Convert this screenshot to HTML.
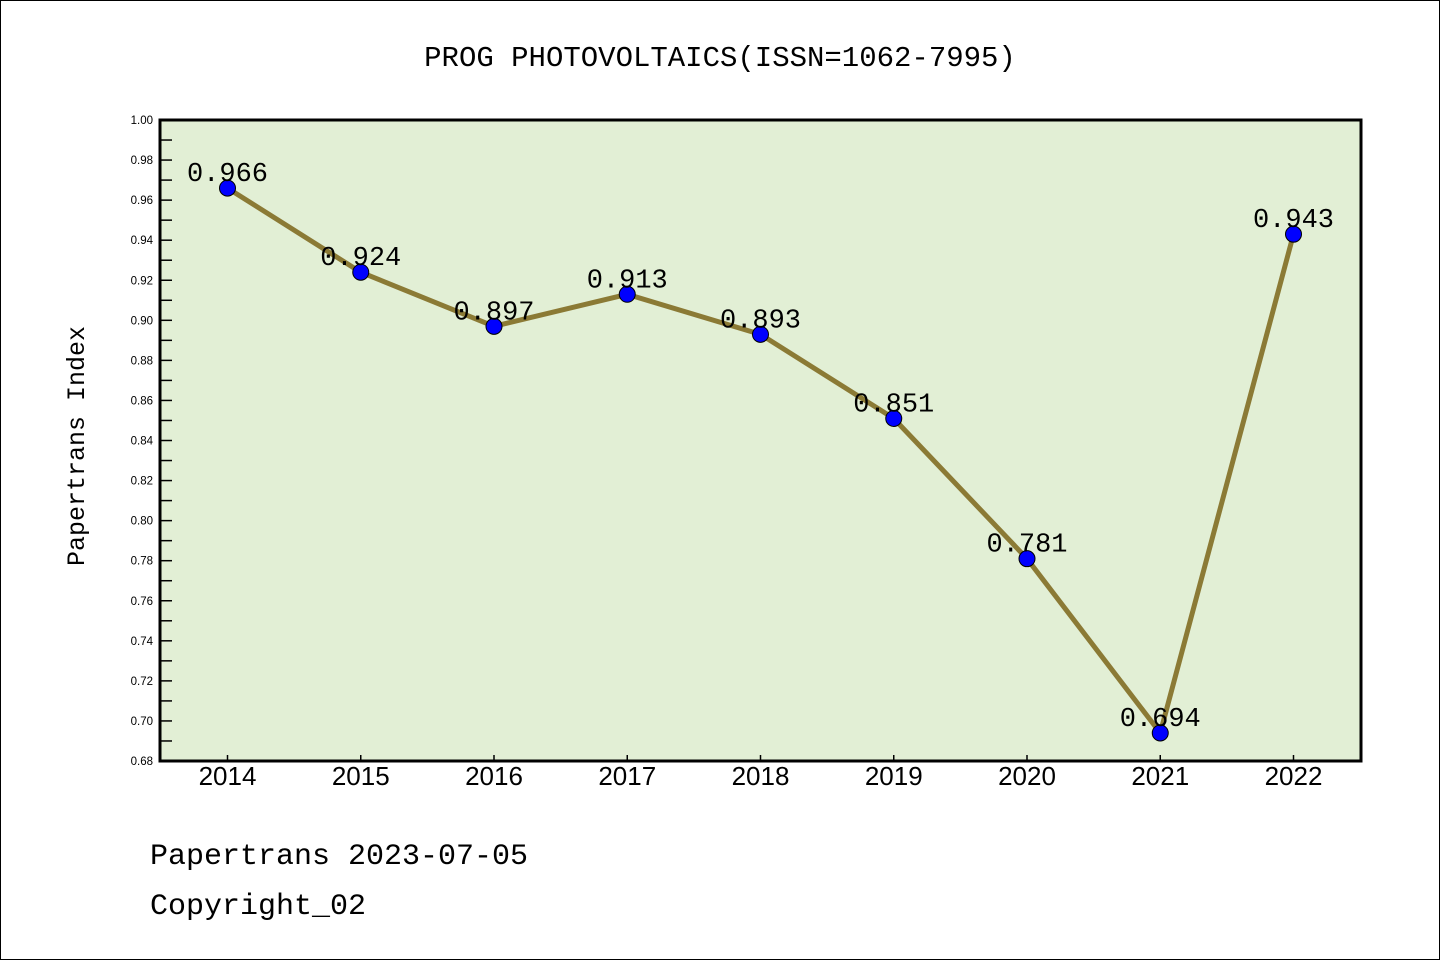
<!DOCTYPE html>
<html><head><meta charset="utf-8"><style>
html,body{margin:0;padding:0;background:#fff}
svg{display:block}
</style></head><body>
<svg width="1440" height="960" xmlns="http://www.w3.org/2000/svg">
<rect x="0.5" y="0.5" width="1439" height="959" fill="#fff" stroke="#000" stroke-width="1"/>
<text x="720" y="66" text-anchor="middle" font-family="Liberation Mono, monospace" font-size="29" fill="#000">PROG PHOTOVOLTAICS(ISSN=1062-7995)</text>
<rect x="160" y="120" width="1201" height="641" fill="#e2efd5"/>
<g id="axes"></g>
<g id="series"></g>
<rect x="160" y="120" width="1201" height="641" fill="none" stroke="#000" stroke-width="3"/>
<text transform="translate(84,446) rotate(-90)" text-anchor="middle" font-family="Liberation Mono, monospace" font-size="25" fill="#000">Papertrans Index</text>
<text x="150" y="864" font-family="Liberation Mono, monospace" font-size="30" fill="#000">Papertrans 2023-07-05</text>
<text x="150" y="914" font-family="Liberation Mono, monospace" font-size="30" fill="#000">Copyright_02</text>
</svg>
<script>
const years = ["2014","2015","2016","2017","2018","2019","2020","2021","2022"];
const values = [0.966,0.924,0.897,0.913,0.893,0.851,0.781,0.694,0.943];
const valueLabels = ["0.966","0.924","0.897","0.913","0.893","0.851","0.781","0.694","0.943"];
const yTicks = ["0.68","0.70","0.72","0.74","0.76","0.78","0.80","0.82","0.84","0.86","0.88","0.90","0.92","0.94","0.96","0.98","1.00"];
const NS="http://www.w3.org/2000/svg";
const L=160,T=120,R=1361,B=761,yMin=0.68,yMax=1.00;
function yS(v){return B-(v-yMin)/(yMax-yMin)*(B-T);}
function xS(i){return 227.5+i*133.25;}
function mk(tag,attrs,parent){const e=document.createElementNS(NS,tag);for(const k in attrs)e.setAttribute(k,attrs[k]);parent.appendChild(e);return e;}
const ax=document.getElementById('axes'), se=document.getElementById('series');
for(let k=0;k<=32;k++){
  const v=yMin+k*0.01, y=yS(v), major=k%2===0;
  const t=mk('line',{x1:L,x2:L+12,y1:y,y2:y,stroke:'#000','stroke-width':1.5},ax);
  
  
}
yTicks.forEach(s=>{
  const tx=mk('text',{x:153,y:yS(parseFloat(s))+4,'text-anchor':'end','font-family':'Liberation Sans, sans-serif','font-size':'11.5',fill:'#000'},ax);
  tx.textContent=s;
  
  
});
years.forEach((yr,i)=>{
  const x=xS(i);
  const t=mk('line',{x1:x,x2:x,y1:B,y2:B-6,stroke:'#000','stroke-width':1.5},ax);
  
  
  const tx=mk('text',{x:x,y:785,'text-anchor':'middle','font-family':'Liberation Sans, sans-serif','font-size':'26',fill:'#000'},ax);
  tx.textContent=yr;
  
  
});
const pts=values.map((v,i)=>xS(i)+','+yS(v)).join(' ');
const pl=mk('polyline',{points:pts,fill:'none',stroke:'#8b7a35','stroke-width':5,'stroke-linejoin':'round'},se);


values.forEach((v,i)=>{
  const c=mk('circle',{cx:xS(i),cy:yS(v),r:8,fill:'#0000ff',stroke:'#000','stroke-width':1},se);
  
  
  const tx=mk('text',{x:xS(i),y:yS(v)-7,'text-anchor':'middle','font-family':'Liberation Mono, monospace','font-size':'27',fill:'#000'},se);
  tx.textContent=valueLabels[i];
  
  
});
</script>
</body></html>
